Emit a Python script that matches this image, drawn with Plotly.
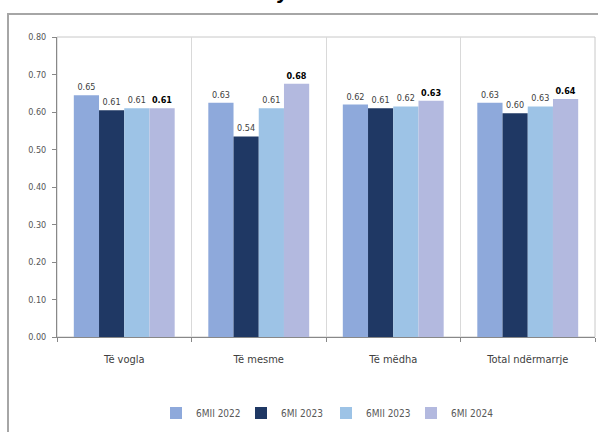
import plotly.graph_objects as go

categories = ["Të vogla", "Të mesme", "Të mëdha", "Total ndërmarrje"]
series_names = ["6MII 2022", "6MI 2023", "6MII 2023", "6MI 2024"]
v_6mii_2022 = [0.645, 0.625, 0.62, 0.625]
v_6mi_2023 = [0.605, 0.535, 0.61, 0.597]
v_6mii_2023 = [0.61, 0.61, 0.615, 0.615]
v_6mi_2024 = [0.61, 0.675, 0.63, 0.635]
labels_6mii_2022 = ["0.65", "0.63", "0.62", "0.63"]
labels_6mi_2023 = ["0.61", "0.54", "0.61", "0.60"]
labels_6mii_2023 = ["0.61", "0.61", "0.62", "0.63"]
labels_6mi_2024 = ["0.61", "0.68", "0.63", "0.64"]

values = [v_6mii_2022, v_6mi_2023, v_6mii_2023, v_6mi_2024]
labels = [labels_6mii_2022, labels_6mi_2023, labels_6mii_2023, labels_6mi_2024]
colors = ["#8EA9DB", "#1F3864", "#9DC3E6", "#B3B9DF"]

NARROW = "Liberation Sans Narrow, DejaVu Sans Condensed, Liberation Sans"

fig = go.Figure()
for i, (name, vals, lab, col) in enumerate(zip(series_names, values, labels, colors)):
    bold = i == 3
    fig.add_trace(go.Bar(
        x=categories, y=vals, name=name, marker=dict(color=col, line=dict(width=0)),
        text=[f"<b>{t}</b>" if bold else t for t in lab],
        textposition="outside", cliponaxis=False,
        textfont=dict(size=9, color="#000000" if bold else "#404040", family=NARROW),
    ))

L, R, T, B = 57, 3, 37, 95
W, H = 598, 432
pw, ph = W - L - R, H - T - B

fig.update_layout(
    width=W, height=H,
    margin=dict(l=L, r=R, t=T, b=B),
    barmode="group", bargap=0.25, bargroupgap=0,
    plot_bgcolor="white", paper_bgcolor="white",
    font=dict(family=NARROW, color="#404040"),
    legend=dict(orientation="h", x=0.5, xanchor="center",
                y=(H - B - 413) / ph, yanchor="middle",
                font=dict(size=10, color="#595959", family=NARROW),
                itemwidth=30, entrywidth=40, entrywidthmode="pixels", tracegroupgap=0),
    showlegend=True,
    uniformtext=dict(minsize=8, mode="show"),
)
fig.update_xaxes(
    tickson="boundaries", showgrid=True, gridcolor="#D9D9D9", gridwidth=1,
    ticks="outside", ticklen=4, tickcolor="#888888",
    showline=True, linecolor="#888888", linewidth=1, mirror=False,
    tickfont=dict(size=11, color="#404040"), ticklabelstandoff=12,
)
fig.update_yaxes(
    range=[0, 0.8], dtick=0.1, tickformat=".2f", showgrid=False,
    ticks="outside", ticklen=4, tickcolor="#888888",
    showline=True, linecolor="#888888", linewidth=1,
    tickfont=dict(size=9, color="#555555"), zeroline=False, ticklabelstandoff=4,
)
# plot area box (top and right edges)
fig.add_shape(type="rect", xref="paper", yref="paper", x0=0, y0=0, x1=1, y1=1,
              line=dict(color="#C8C8C8", width=1), layer="below")
# outer chart frame
fig.add_shape(type="rect", xref="paper", yref="paper",
              x0=(8 - L) / pw, y0=(H - B - 500) / ph, x1=(640 - L) / pw, y1=(H - B - 14) / ph,
              line=dict(color="#A6A6A6", width=2))
# fragment of cut-off title (only its bottom shows, as in the reference)
fig.add_annotation(text="<b><i>y</i></b>", xref="paper", yref="paper",
                   x=(284 - L) / pw, y=(H - B - 5) / ph, xanchor="center", yanchor="bottom",
                   showarrow=False, font=dict(size=22, color="black", family="Liberation Sans"))

fig.write_html("out.html")
